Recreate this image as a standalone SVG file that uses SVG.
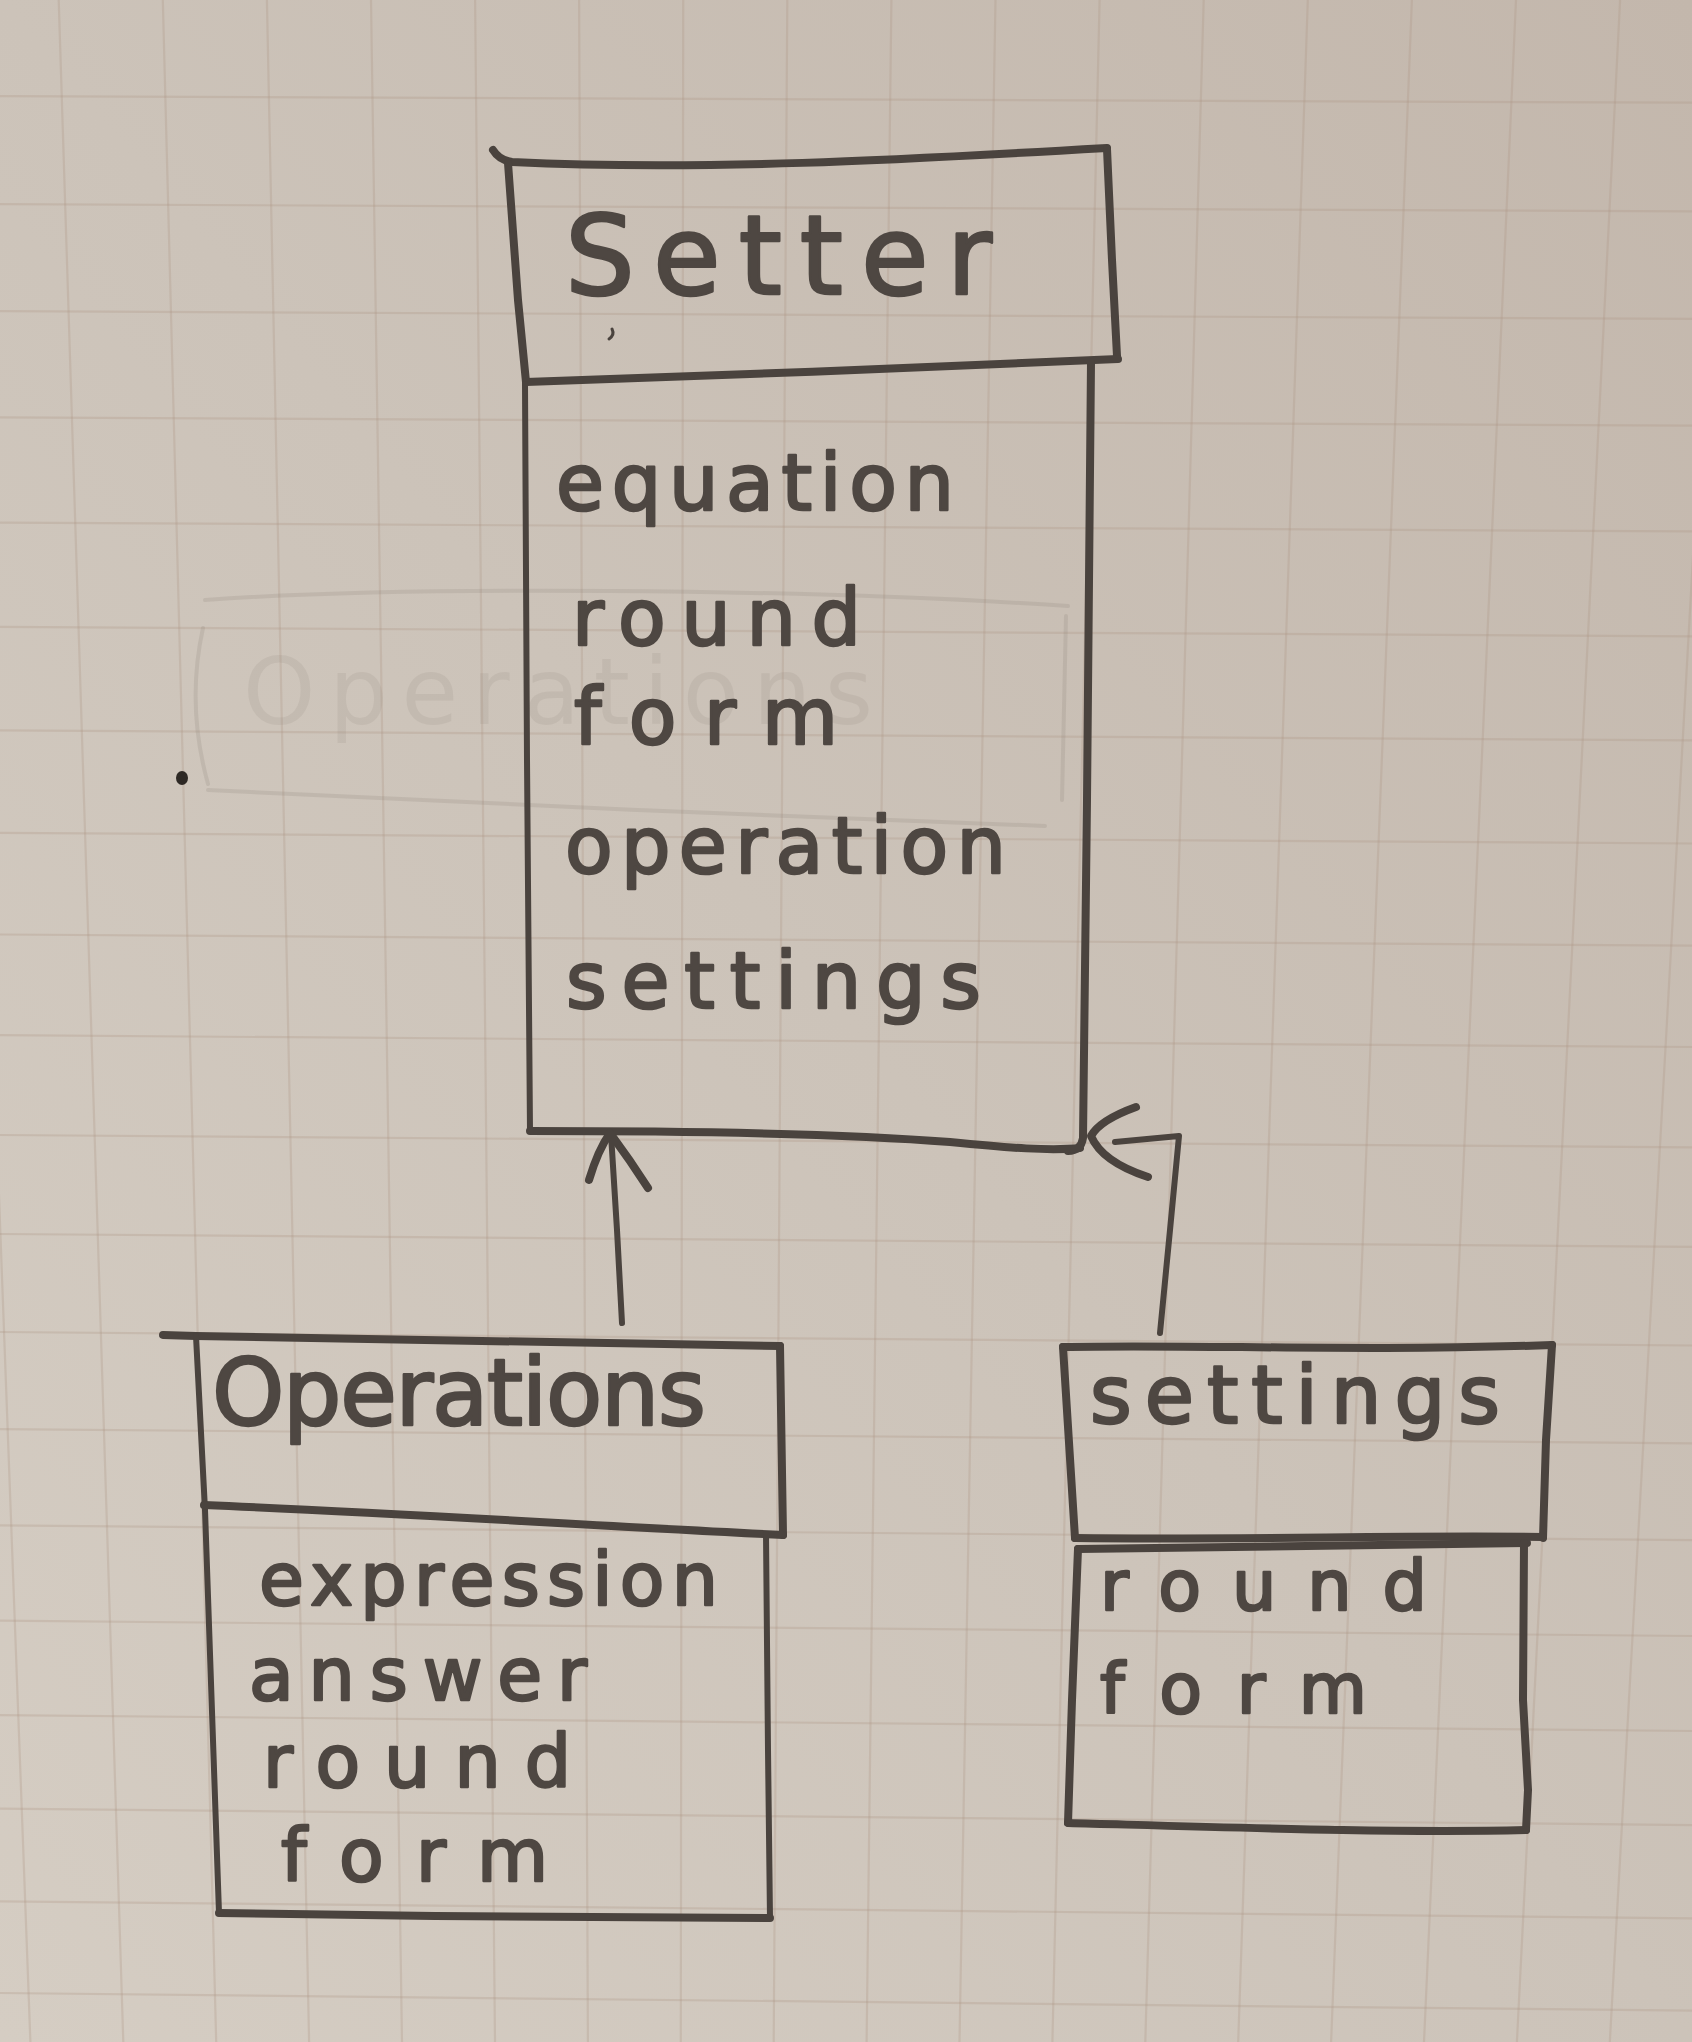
<svg xmlns="http://www.w3.org/2000/svg" width="1692" height="2042" viewBox="0 0 1692 2042">
  <defs>
    <linearGradient id="paper" x1="1" y1="0" x2="0" y2="1">
      <stop offset="0" stop-color="#c3b7ac"/>
      <stop offset="0.5" stop-color="#ccc3b9"/>
      <stop offset="1" stop-color="#d5cdc3"/>
    </linearGradient>
    <style>
      .grid line { stroke: #ad9584; stroke-width: 2.2; opacity: 0.28; }
      .ink { fill: none; stroke: #4a433e; stroke-width: 8; stroke-linecap: round; stroke-linejoin: round; }
      .thin { stroke-width: 6; }
      .hand { font-family: "DejaVu Sans", "Liberation Sans", sans-serif; fill: #4e4742; stroke: #4e4742; stroke-width: 2.5; stroke-linejoin: round; }
      .title-setter { font-size: 110px; }
      .title-ops { font-size: 92px; }
      .title-set { font-size: 80px; }
      .attr-setter { font-size: 78px; }
      .attr-ops { font-size: 73px; }
      .attr-set { font-size: 70px; }
      .erased { fill: none; stroke: #8c8077; stroke-width: 4; opacity: 0.2; stroke-linecap: round; }
      .erased-text { font-family: "DejaVu Sans", "Liberation Sans", sans-serif; font-size: 92px; fill: #8c8077; opacity: 0.14; }
    </style>
  </defs>

  <!-- squared paper -->
  <rect x="0" y="0" width="1692" height="2042" fill="url(#paper)"/>
  <g class="grid">
    <line x1="0" y1="96.2" x2="1692" y2="102.7"/>
    <line x1="0" y1="204.2" x2="1692" y2="211.3"/>
    <line x1="0" y1="311.2" x2="1692" y2="318.9"/>
    <line x1="0" y1="417.3" x2="1692" y2="425.6"/>
    <line x1="0" y1="522.6" x2="1692" y2="531.4"/>
    <line x1="0" y1="626.9" x2="1692" y2="636.3"/>
    <line x1="0" y1="730.3" x2="1692" y2="740.3"/>
    <line x1="0" y1="832.8" x2="1692" y2="843.5"/>
    <line x1="0" y1="934.5" x2="1692" y2="945.7"/>
    <line x1="0" y1="1035.2" x2="1692" y2="1047"/>
    <line x1="0" y1="1135" x2="1692" y2="1147.4"/>
    <line x1="0" y1="1234" x2="1692" y2="1246.9"/>
    <line x1="0" y1="1332" x2="1692" y2="1345.5"/>
    <line x1="0" y1="1429.1" x2="1692" y2="1443.3"/>
    <line x1="0" y1="1525.4" x2="1692" y2="1540.1"/>
    <line x1="0" y1="1620.7" x2="1692" y2="1636"/>
    <line x1="0" y1="1715.1" x2="1692" y2="1731"/>
    <line x1="0" y1="1808.7" x2="1692" y2="1825.1"/>
    <line x1="0" y1="1901.3" x2="1692" y2="1918.3"/>
    <line x1="0" y1="1993" x2="1692" y2="2010.7"/>
    <line x1="-45.4" y1="0" x2="30.4" y2="2042"/>
    <line x1="58.7" y1="0" x2="123.3" y2="2042"/>
    <line x1="162.8" y1="0" x2="216.2" y2="2042"/>
    <line x1="266.9" y1="0" x2="309.1" y2="2042"/>
    <line x1="371" y1="0" x2="402" y2="2042"/>
    <line x1="475.1" y1="0" x2="495" y2="2042"/>
    <line x1="579.1" y1="0" x2="587.9" y2="2042"/>
    <line x1="683.2" y1="0" x2="680.8" y2="2042"/>
    <line x1="787.3" y1="0" x2="773.7" y2="2042"/>
    <line x1="891.4" y1="0" x2="866.6" y2="2042"/>
    <line x1="995.5" y1="0" x2="959.5" y2="2042"/>
    <line x1="1099.6" y1="0" x2="1052.4" y2="2042"/>
    <line x1="1203.7" y1="0" x2="1145.3" y2="2042"/>
    <line x1="1307.8" y1="0" x2="1238.2" y2="2042"/>
    <line x1="1411.9" y1="0" x2="1331.1" y2="2042"/>
    <line x1="1516" y1="0" x2="1424" y2="2042"/>
    <line x1="1620.1" y1="0" x2="1516.9" y2="2042"/>
    <line x1="1724.2" y1="0" x2="1609.8" y2="2042"/>
  </g>

  <!-- rubbed-out first attempt -->
  <g id="erased-sketch">
    <path class="erased" d="M 205 600 C 400 586 800 588 1068 606"/>
    <path class="erased" d="M 203 628 Q 186 705 208 784"/>
    <path class="erased" d="M 208 790 C 450 802 800 818 1045 826"/>
    <path class="erased" d="M 1066 616 L 1062 800"/>
    <text class="erased-text" x="243" y="724" textLength="630" lengthAdjust="spacing">Operations</text>
  </g>
  <ellipse cx="182" cy="778" rx="6" ry="7" fill="#2e2925"/>

  <!-- Setter class -->
  <g id="node-setter">
    <path class="ink" d="M 493 150 Q 499 160 512 162 C 700 171 900 160 1107 148"/>
    <path class="ink" d="M 1107 149 L 1112 260 L 1117 356"/>
    <path class="ink" d="M 508 163 L 518 300 L 526 382"/>
    <path class="ink" d="M 526 382 C 700 377 950 366 1118 359"/>
    <path class="ink" d="M 1091 362 L 1087 800 L 1083 1138 Q 1081 1151 1068 1151"/>
    <path class="ink thin" d="M 525 384 L 527 760 L 530 1131"/>
    <path class="ink" d="M 530 1131 C 700 1131 850 1134 950 1142 C 1010 1148 1050 1151 1080 1148"/>
    <path class="ink thin" d="M 612 329 Q 615 335 609 339" style="stroke-width:3"/>
    <text class="hand title-setter" x="565" y="294" textLength="427" lengthAdjust="spacing">Setter</text>
    <text class="hand attr-setter" x="556" y="510" textLength="398" lengthAdjust="spacing">equation</text>
    <text class="hand attr-setter" x="572" y="645" textLength="289" lengthAdjust="spacing">round</text>
    <text class="hand attr-setter" x="574" y="744" textLength="264" lengthAdjust="spacing">form</text>
    <text class="hand attr-setter" x="565" y="873" textLength="441" lengthAdjust="spacing">operation</text>
    <text class="hand attr-setter" x="566" y="1008" textLength="415" lengthAdjust="spacing">settings</text>
  </g>

  <!-- Operations class -->
  <g id="node-operations">
    <path class="ink" d="M 163 1335 L 196 1336 C 400 1340 600 1344 780 1346"/>
    <path class="ink thin" d="M 196 1336 L 205 1510 L 219 1913"/>
    <path class="ink" d="M 780 1346 L 783 1535"/>
    <path class="ink" d="M 204 1505 C 400 1513 600 1526 783 1535"/>
    <path class="ink thin" d="M 766 1534 L 768 1750 L 770 1918"/>
    <path class="ink" d="M 219 1913 C 400 1916 600 1918 770 1918"/>
    <text class="hand title-ops" x="212" y="1425" textLength="494" lengthAdjust="spacing">Operations</text>
    <text class="hand attr-ops" x="259" y="1605" textLength="459" lengthAdjust="spacing">expression</text>
    <text class="hand attr-ops" x="249" y="1700" textLength="338" lengthAdjust="spacing">answer</text>
    <text class="hand attr-ops" x="263" y="1787" textLength="308" lengthAdjust="spacing">round</text>
    <text class="hand attr-ops" x="281" y="1881" textLength="267" lengthAdjust="spacing">form</text>
  </g>

  <!-- Settings class -->
  <g id="node-settings">
    <path class="ink" d="M 1063 1347 C 1200 1344 1350 1352 1552 1345"/>
    <path class="ink" d="M 1063 1347 L 1075 1538"/>
    <path class="ink" d="M 1552 1345 L 1546 1440 L 1543 1538"/>
    <path class="ink" d="M 1075 1538 C 1250 1540 1400 1535 1543 1537"/>
    <path class="ink" d="M 1078 1549 C 1250 1547 1400 1544 1527 1543"/>
    <path class="ink" d="M 1078 1549 L 1072 1700 L 1068 1823"/>
    <path class="ink" d="M 1524 1543 L 1523 1700 L 1528 1790 L 1526 1830"/>
    <path class="ink" d="M 1068 1823 C 1250 1828 1400 1833 1526 1830"/>
    <text class="hand title-set" x="1090" y="1423" textLength="410" lengthAdjust="spacing">settings</text>
    <text class="hand attr-set" x="1100" y="1610" textLength="327" lengthAdjust="spacing">round</text>
    <text class="hand attr-set" x="1100" y="1713" textLength="267" lengthAdjust="spacing">form</text>
  </g>

  <!-- inheritance arrows -->
  <g id="connectors">
    <path class="ink thin" d="M 622 1323 L 617 1230 L 611 1134"/>
    <path class="ink" d="M 589 1180 Q 598 1150 610 1133 Q 630 1160 648 1188"/>
    <path class="ink thin" d="M 1160 1333 L 1170 1230 L 1179 1136 L 1115 1142"/>
    <path class="ink" d="M 1136 1107 Q 1100 1120 1091 1136 Q 1102 1162 1148 1177"/>
  </g>
</svg>
